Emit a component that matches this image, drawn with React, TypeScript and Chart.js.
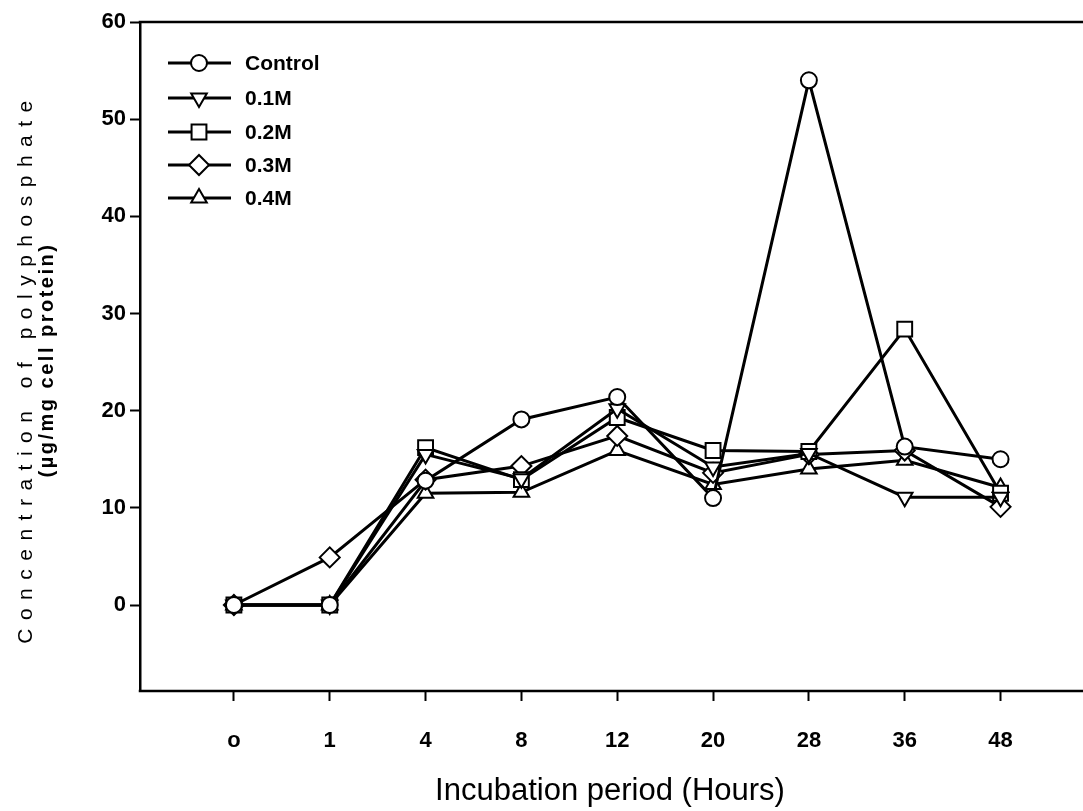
import React, { useEffect, useRef } from "react";
import { Chart, registerables } from "chart.js";

Chart.register(...registerables);

const hourLabels = ["o", "1", "4", "8", "12", "20", "28", "36", "48"];
const control = [0, 0, 12.8, 19.1, 21.4, 11.0, 54.0, 16.3, 15.0];
const m01 = [0, 0, 15.5, 13.0, 20.2, 14.2, 15.6, 11.1, 11.1];
const m02 = [0, 0, 16.2, 12.9, 19.3, 15.9, 15.8, 28.4, 11.5];
const m03 = [0, 4.9, 12.9, 14.3, 17.4, 13.6, 15.5, 15.9, 10.1];
const m04 = [0, 0, 11.5, 11.6, 15.9, 12.4, 14.0, 14.9, 12.1];
const yTicks = [0, 10, 20, 30, 40, 50, 60];

const seriesNames = ["Control", "0.1M", "0.2M", "0.3M", "0.4M"];
const seriesValues = [control, m01, m02, m03, m04];
const pointStyles = ["circle", "triangle", "rect", "rectRot", "triangle"];
const pointRotations = [0, 180, 0, 0, 0];
const pointRadii = [8, 9, 10.5, 10, 9];

const FONT = "'Liberation Sans', Arial, Helvetica, sans-serif";

function drawShape(ctx: CanvasRenderingContext2D, style: string, x: number, y: number, r: number, rot: number) {
  ctx.beginPath();
  if (style === "circle") {
    ctx.arc(x, y, r, 0, Math.PI * 2);
  } else if (style === "rect") {
    const s = Math.SQRT1_2 * r;
    ctx.rect(x - s, y - s, 2 * s, 2 * s);
  } else if (style === "rectRot") {
    ctx.moveTo(x, y - r);
    ctx.lineTo(x + r, y);
    ctx.lineTo(x, y + r);
    ctx.lineTo(x - r, y);
    ctx.closePath();
  } else if (style === "triangle") {
    let a = (rot * Math.PI) / 180;
    ctx.moveTo(x + Math.sin(a) * r, y - Math.cos(a) * r);
    a += (2 * Math.PI) / 3;
    ctx.lineTo(x + Math.sin(a) * r, y - Math.cos(a) * r);
    a += (2 * Math.PI) / 3;
    ctx.lineTo(x + Math.sin(a) * r, y - Math.cos(a) * r);
    ctx.closePath();
  }
  ctx.fillStyle = "#fff";
  ctx.fill();
  ctx.lineWidth = 2;
  ctx.strokeStyle = "#000";
  ctx.stroke();
}

const decorPlugin = {
  id: "decor",
  afterDraw(chart: any) {
    const ctx: CanvasRenderingContext2D = chart.ctx;
    const area = chart.chartArea;
    ctx.save();
    // top border and bottom axis, both to the page edge
    ctx.strokeStyle = "#000";
    ctx.lineWidth = 2.5;
    ctx.beginPath();
    ctx.moveTo(area.left - 1.25, area.top);
    ctx.lineTo(1083, area.top);
    ctx.moveTo(area.left - 1.25, area.bottom);
    ctx.lineTo(1083, area.bottom);
    ctx.stroke();

    // legend
    const rows = [63, 98, 132, 165, 198];
    for (let i = 0; i < seriesNames.length; i++) {
      const y = rows[i];
      ctx.strokeStyle = "#000";
      ctx.lineWidth = 2.8;
      ctx.beginPath();
      ctx.moveTo(168, y);
      ctx.lineTo(231, y);
      ctx.stroke();
      drawShape(ctx, pointStyles[i], 199, y, pointRadii[i], pointRotations[i]);
      ctx.fillStyle = "#000";
      ctx.font = `bold 21px ${FONT}`;
      ctx.textAlign = "left";
      ctx.textBaseline = "middle";
      ctx.fillText(seriesNames[i], 245, y + 1);
    }

    // x title
    ctx.fillStyle = "#000";
    ctx.font = `31px ${FONT}`;
    ctx.textAlign = "center";
    ctx.textBaseline = "middle";
    ctx.fillText("Incubation period (Hours)", 610, 791);

    // y title (two lines)
    ctx.save();
    ctx.translate(26, 368);
    ctx.rotate(-Math.PI / 2);
    ctx.font = `21px ${FONT}`;
    (ctx as any).letterSpacing = "8.5px";
    ctx.fillText("Concentration of polyphosphate", 0, 0);
    ctx.restore();

    ctx.save();
    ctx.translate(47, 360);
    ctx.rotate(-Math.PI / 2);
    ctx.font = `bold 20px ${FONT}`;
    (ctx as any).letterSpacing = "2.5px";
    ctx.fillText("(\u00b5g/mg cell protein)", 0, 0);
    ctx.restore();

    ctx.restore();
  },
};

export default function App() {
  const ref = useRef<HTMLCanvasElement>(null);

  useEffect(() => {
    if (!ref.current) return;
    const datasets = seriesNames.map((name, i) => ({
      label: name,
      data: seriesValues[i].map((v, j) => ({ x: j, y: v })),
      borderColor: "#000",
      borderWidth: 3,
      backgroundColor: "#fff",
      pointStyle: pointStyles[i] as any,
      pointRotation: pointRotations[i],
      pointRadius: pointRadii[i],
      pointBorderWidth: 2,
      pointBorderColor: "#000",
      pointBackgroundColor: "#fff",
      tension: 0,
      fill: false,
    }));

    const chart = new Chart(ref.current, {
      type: "line",
      data: { datasets },
      plugins: [decorPlugin],
      options: {
        responsive: false,
        animation: false,
        layout: { padding: { left: 0, top: 22, right: 0, bottom: 0 } },
        plugins: { legend: { display: false }, tooltip: { enabled: false } },
        scales: {
          x: {
            type: "linear",
            min: -0.98,
            max: 8.73,
            afterBuildTicks: (s: any) => {
              s.ticks = hourLabels.map((_, i) => ({ value: i }));
            },
            afterFit: (s: any) => {
              s.height = 120;
              s.paddingLeft = 0;
              s.paddingRight = 0;
            },
            grid: { drawOnChartArea: false, drawTicks: true, tickLength: 10, tickColor: "#000", tickWidth: 2 },
            border: { display: false },
            ticks: {
              color: "#000",
              font: { family: FONT, size: 22, weight: "bold" },
              padding: 27,
              maxRotation: 0,
              autoSkip: false,
              callback: (v: any) => hourLabels[Math.round(Number(v))] ?? "",
            },
          },
          y: {
            type: "linear",
            min: -8.85,
            max: 60,
            afterBuildTicks: (s: any) => {
              s.ticks = yTicks.map((v) => ({ value: v }));
            },
            afterFit: (s: any) => {
              s.width = 140;
              s.paddingTop = 0;
              s.paddingBottom = 0;
            },
            grid: { drawOnChartArea: false, drawTicks: true, tickLength: 10, tickColor: "#000", tickWidth: 2 },
            border: { display: true, color: "#000", width: 2.5 },
            ticks: {
              color: "#000",
              font: { family: FONT, size: 22, weight: "bold" },
              padding: 4,
              callback: (v: any) => String(v),
            },
          },
        },
      },
    });
    return () => chart.destroy();
  }, []);

  return (
    <div style={{ position: "absolute", left: 0, top: 0, width: 1083, height: 811, background: "#fff" }}>
      <canvas ref={ref} width={1083} height={811} style={{ display: "block" }} />
    </div>
  );
}
